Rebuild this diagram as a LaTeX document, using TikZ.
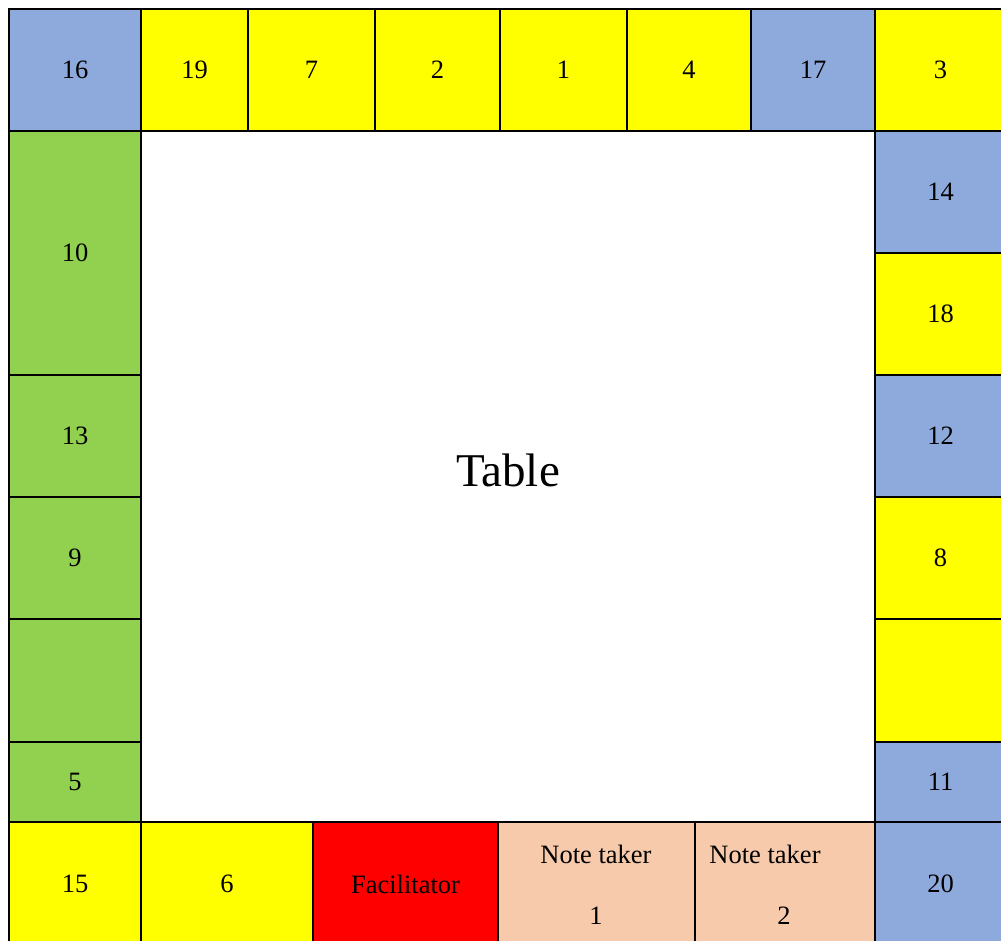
\documentclass[tikz,border=0pt]{standalone}
\usepackage{fontspec}
\setmainfont{Liberation Serif}
\definecolor{azul}{HTML}{8EA9DB}
\definecolor{amarillo}{HTML}{FFFF00}
\definecolor{verde}{HTML}{92D050}
\definecolor{rojo}{HTML}{FF0000}
\definecolor{salmon}{HTML}{F7CAAC}

\begin{document}
\begin{tikzpicture}[x=1pt, y=-1pt,
      c/.style={draw, line width=1.4pt, inner sep=0pt, outer sep=0pt, anchor=north west,
        font=\fontsize{26.5}{30}\selectfont},
      sz/.style 2 args={minimum width=#1pt, minimum height=#2pt},
      t/.style={inner sep=0pt, font=\fontsize{26.5}{30}\selectfont}]
    \clip (0,0) rectangle (1001,941);
    % top row
    \node[c, sz={132}{122}, fill=azul] (s16) at (9,9) {16};
    \node[c, sz={107}{122}, fill=amarillo] (s19) at (141,9) {19};
    \node[c, sz={127}{122}, fill=amarillo] (s7) at (248,9) {7};
    \node[c, sz={125}{122}, fill=amarillo] (s2) at (375,9) {2};
    \node[c, sz={127}{122}, fill=amarillo] (s1) at (500,9) {1};
    \node[c, sz={124}{122}, fill=amarillo] (s4) at (627,9) {4};
    \node[c, sz={124}{122}, fill=azul] (s17) at (751,9) {17};
    \node[c, sz={131}{122}, fill=amarillo] (s3) at (875,9) {3};
    % left side
    \node[c, sz={132}{244}, fill=verde] (s10) at (9,131) {10};
    \node[c, sz={132}{122}, fill=verde] (s13) at (9,375) {13};
    \node[c, sz={132}{122}, fill=verde] (s9) at (9,497) {9};
    \node[c, sz={132}{123}, fill=verde] (sl) at (9,619) {};
    \node[c, sz={132}{80}, fill=verde] (s5) at (9,742) {5};
    % right side
    \node[c, sz={131}{122}, fill=azul] (s14) at (875,131) {14};
    \node[c, sz={131}{122}, fill=amarillo] (s18) at (875,253) {18};
    \node[c, sz={131}{122}, fill=azul] (s12) at (875,375) {12};
    \node[c, sz={131}{122}, fill=amarillo] (s8) at (875,497) {8};
    \node[c, sz={131}{123}, fill=amarillo] (sr) at (875,619) {};
    \node[c, sz={131}{80}, fill=azul] (s11) at (875,742) {11};
    % bottom row
    \node[c, sz={132}{124}, fill=amarillo] (s15) at (9,822) {15};
    \node[c, sz={172}{124}, fill=amarillo] (s6) at (141,822) {6};
    \node[c, sz={185}{124}, fill=rojo] (fac) at (313,822) {Facilitator};
    \node[c, sz={197}{124}, fill=salmon] (nt1) at (498,822) {};
    \node[c, sz={180}{124}, fill=salmon] (nt2) at (695,822) {};
    \node[c, sz={131}{124}, fill=azul] (s20) at (875,822) {20};
    \node[t] (nt1a) at (596,854) {Note taker};
    \node[t] (nt1b) at (596,916) {1};
    \node[t] (nt2a) at (765,854) {Note taker};
    \node[t] (nt2b) at (784,916) {2};
    % table
    \node[inner sep=0pt, font=\fontsize{47}{52}\selectfont] (mesa) at (508,470) {Table};
  \end{tikzpicture}
\end{document}
